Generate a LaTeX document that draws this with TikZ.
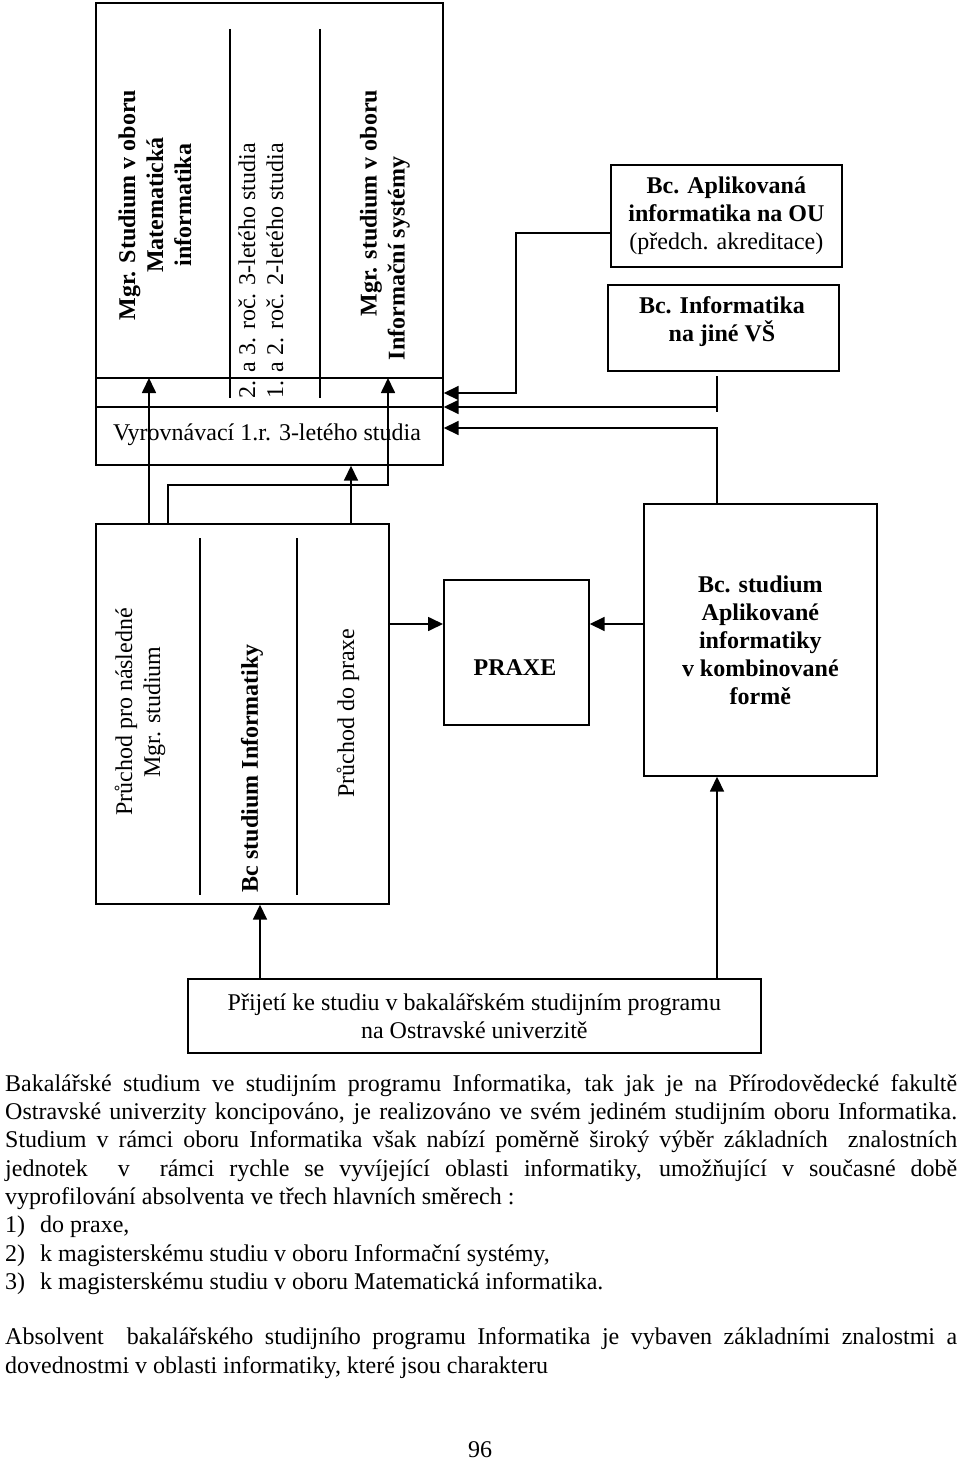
\documentclass[tikz,border=0pt]{standalone}
\usepackage{fontspec}
\setmainfont{Liberation Serif}
\usetikzlibrary{arrows.meta}
\begin{document}
\begin{tikzpicture}[x=1pt,y=-1pt,
  box/.style={draw, line width=1.7pt, inner sep=0pt, font=\fontsize{24}{28}\selectfont, align=center},
  divline/.style={line width=1.1pt},
  arr/.style={-{Triangle[length=15pt,width=14pt]}, line width=1.7pt},
  conn/.style={line width=1.7pt},
  lbl/.style={font=\fontsize{24}{28}\selectfont, inner sep=0pt, align=center},
  blbl/.style={font=\fontsize{24}{28}\selectfont\bfseries, inner sep=0pt, align=center},
  body/.style={font=\fontsize{24}{28.3}\selectfont, inner sep=0pt, align=left},
]
\fill[white] (0,0) rectangle (960,1463);
\useasboundingbox (0,0) rectangle (960,1463);

% ---- boxes ----
\node[box, minimum width=347pt, minimum height=462pt, anchor=north west] (mgr) at (95,2) {};
\node[box, minimum width=231pt, minimum height=102pt, anchor=north west] (bapl) at (610,164)
  {\textbf{Bc. Aplikovaná}\\\textbf{informatika na OU}\\(předch. akreditace)};
\node[box, minimum width=231pt, minimum height=86pt, anchor=north west] (binf) at (607,284) {};
\node[blbl] (tbinf) at (722,322) {Bc. Informatika\\na jiné VŠ};
\node[box, minimum width=293pt, minimum height=380pt, anchor=north west] (bc) at (95,523) {};
\node[box, minimum width=145pt, minimum height=145pt, anchor=north west] (praxe) at (443,579) {};
\node[blbl] (tpraxe) at (515,668) {PRAXE};
\node[box, minimum width=233pt, minimum height=272pt, anchor=north west] (bkomb) at (643,503)
  {\bfseries Bc. studium\\\bfseries Aplikované\\\bfseries informatiky\\\bfseries v kombinované\\\bfseries formě};
\node[box, minimum width=573pt, minimum height=74pt, anchor=north west] (prij) at (187,978)
  {Přijetí ke studiu v bakalářském studijním programu\\na Ostravské univerzitě};

% ---- dividers in the top box ----
\draw[divline] (mgr.west |- 0,378) -- (mgr.east |- 0,378);
\draw[divline] (mgr.west |- 0,407) -- (mgr.east |- 0,407);
\draw[divline] (230,29) -- (230,398);
\draw[divline] (320,29) -- (320,398);

% ---- dividers in the Bc box ----
\draw[divline] (200,538) -- (200,895);
\draw[divline] (297,538) -- (297,895);

% ---- texts in the top box ----
\node[blbl, rotate=90] (tmat) at (155,205) {Mgr. Studium v oboru\\Matematická\\informatika};
\node[lbl, rotate=90, align=left] (troc) at (261,271) {2. a 3. roč. 3-letého studia\\1. a 2. roč. 2-letého studia};
\node[blbl, rotate=90, align=left] (tis) at (385,225) {\hspace*{44pt}Mgr. studium v oboru\\Informační systémy};
\node[lbl] (tvyr) at (267,435) {Vyrovnávací 1.r. 3-letého studia};

% ---- texts in the Bc box ----
\node[lbl, rotate=90] (tpru) at (140,712) {Průchod pro následné\\Mgr. studium};
\node[blbl, rotate=90] (tbcs) at (252,768) {Bc studium Informatiky};
\node[lbl, rotate=90] (tprax) at (348,713) {Průchod do praxe};

% ---- connectors ----
\draw[arr] (bc.north -| 149,0) -- (149,378);
\draw[arr] (bc.north -| 168,0) -- (168,485) -- (388,485) -- (388,378);
\draw[arr] (bc.north -| 351,0) -- (mgr.south -| 351,0);
\draw[arr] (bapl.west |- 0,233) -- (516,233) -- (516,393) -- (mgr.east |- 0,393);
\draw[arr] (717,376) -- (717,407) -- (mgr.east |- 0,407);
\draw[conn] (717,405) -- (717,412);
\draw[arr] (bkomb.north -| 717,0) -- (717,428) -- (mgr.east |- 0,428);
\draw[arr] (bc.east |- 0,624) -- (praxe.west |- 0,624);
\draw[arr] (bkomb.west |- 0,624) -- (praxe.east |- 0,624);
\draw[arr] (prij.north -| 260,0) -- (bc.south -| 260,0);
\draw[arr] (prij.north -| 717,0) -- (bkomb.south -| 717,0);

% ---- body text (node baseline = last line) ----
\node[body, anchor=base west] (para) at (5,1373) {%
\makebox[952pt][s]{Bakalářské studium ve studijním programu Informatika, tak jak je na Přírodovědecké fakultě}\\
\makebox[952pt][s]{Ostravské univerzity koncipováno, je realizováno ve svém jediném studijním oboru Informatika.}\\
\makebox[952pt][s]{Studium v rámci oboru Informatika však nabízí poměrně široký výběr základních\ \ znalostních}\\
\makebox[952pt][s]{jednotek\ \ v\ \ rámci rychle se vyvíjející oblasti informatiky, umožňující v současné době}\\
vyprofilování absolventa ve třech hlavních směrech :\\
\makebox[35pt][l]{1)}do praxe,\\
\makebox[35pt][l]{2)}k magisterskému studiu v oboru Informační systémy,\\
\makebox[35pt][l]{3)}k magisterskému studiu v oboru Matematická informatika.\\[27pt]
\makebox[952pt][s]{Absolvent\ \ bakalářského studijního programu Informatika je vybaven základními znalostmi a}\\
dovednostmi v oblasti informatiky, které jsou charakteru};
\node[lbl] (pnum) at (480,1450) {96};
\end{tikzpicture}
\end{document}
